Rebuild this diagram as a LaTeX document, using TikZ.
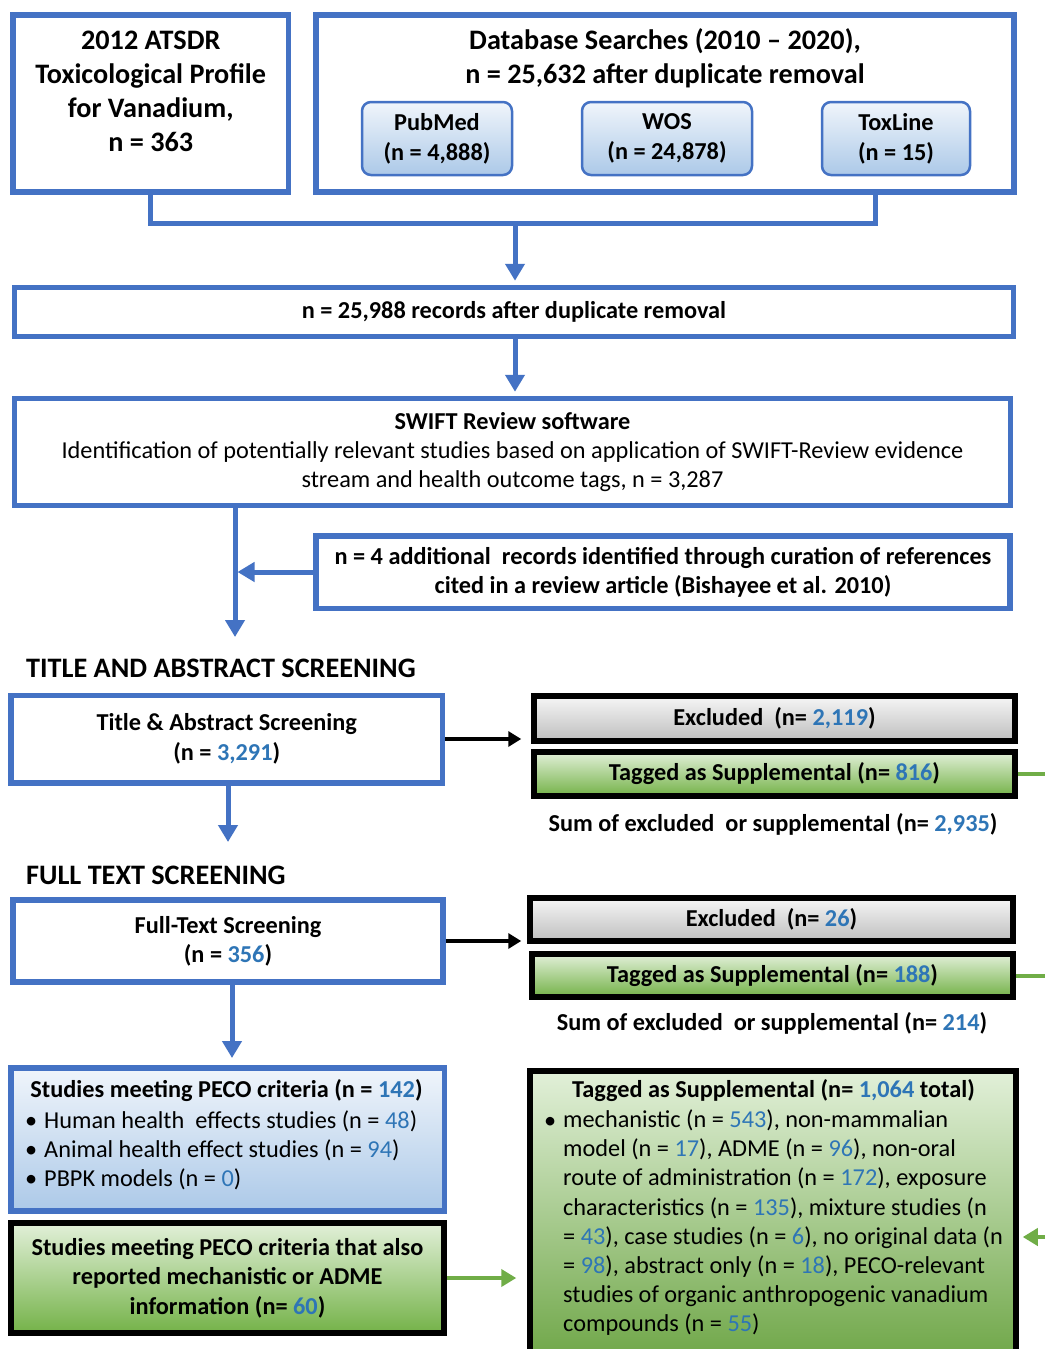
\documentclass[tikz,border=0pt]{standalone}
\usepackage{fontspec}
\setmainfont{Carlito}
\usetikzlibrary{arrows.meta,calc}
\definecolor{bl}{RGB}{68,114,196}
\definecolor{nb}{RGB}{46,117,182}
\definecolor{ga}{RGB}{112,173,71}
\definecolor{gtop}{RGB}{226,240,217}
\definecolor{gbot}{RGB}{116,178,72}
\definecolor{ytop}{RGB}{246,246,246}
\definecolor{ybot}{RGB}{190,190,190}
\definecolor{btop}{RGB}{240,245,251}
\definecolor{bbot}{RGB}{172,201,232}
\newcommand{\nm}[1]{\textcolor{nb}{#1}}
\begin{document}
\begin{tikzpicture}[x=1pt,y=-1pt,
  fb/.style={font=\bfseries\fontsize{24.3}{29.5}\selectfont},
  fr/.style={font=\fontsize{24.3}{29.2}\selectfont},
  ft/.style={font=\bfseries\fontsize{28.2}{33.8}\selectfont},
  bbox/.style={draw=bl,line width=5.5pt,inner sep=0pt,align=center,fill=white},
  subbox/.style={draw=bl,line width=2.5pt,rounded corners=9pt,inner sep=0pt,align=center,top color=btop,bottom color=bbot,font=\bfseries\fontsize{24.3}{30}\selectfont},
  kbox/.style={draw=black,line width=5.5pt,inner sep=0pt,align=center},
  gybox/.style={kbox,top color=ytop,bottom color=ybot,fb},
  grbox/.style={kbox,top color=gtop,bottom color=gbot},
  txt/.style={inner sep=0pt,align=center},
  blline/.style={draw=bl,line width=5pt},
  blarrow/.style={draw=bl,line width=5pt,-{Triangle[length=17pt,width=19pt]}},
  karrow/.style={draw=black,line width=4.5pt,-{Triangle[length=13pt,width=15pt]}},
  garrow/.style={draw=ga,line width=4pt,-{Triangle[length=15pt,width=17pt]}},
  gline/.style={draw=ga,line width=4pt}
]
\useasboundingbox (0,0) rectangle (1045,1349);
\fill[white] (0,0) rectangle (1045,1349);

% top boxes
\node[bbox,minimum width=275.5pt,minimum height=177pt] (A) at (150.75,103.5) {};
\node[txt,ft] (At) at (150.75,91.5)
  {2012 ATSDR\\Toxicological Profile\\for Vanadium,\\n = 363};
\node[bbox,minimum width=698pt,minimum height=177pt] (B) at (665,103.5) {};
\node[txt,ft] (Bt) at (665,58)
  {Database Searches (2010 -- 2020),\\n = 25,632 after duplicate removal};
\node[subbox,minimum width=150pt,minimum height=73pt] (pm) at (437,138.5) {PubMed\\(n = 4,888)};
\node[subbox,minimum width=170pt,minimum height=73pt] (wos) at (667,138.5) {WOS\\(n = 24,878)};
\node[subbox,minimum width=148pt,minimum height=73pt] (tox) at (896,138.5) {ToxLine\\(n = 15)};

\coordinate (mj) at (515,223);
\coordinate (bj) at (875,192);
\draw[blline] (A.south) |- (mj) -| (bj);

\node[bbox,fb,minimum width=999pt,minimum height=49pt] (C) at (514,312)
  {n = 25,988 records after duplicate removal};
\draw[blarrow,shorten >=4pt] (mj) -- (mj |- C.north);

\node[bbox,fr,minimum width=996pt,minimum height=107pt] (D) at (512.5,452)
  {\textbf{SWIFT Review software}\\
   Identification of potentially relevant studies based on application of SWIFT-Review evidence\\
   stream and health outcome tags, n = 3,287};
\draw[blarrow,shorten >=4pt] (C.south -| mj) -- (D.north -| mj);

\node[bbox,font=\bfseries\fontsize{24.3}{29}\selectfont,minimum width=694pt,minimum height=72.5pt] (E) at (663,572)
  {n = 4 additional\ \ records identified through curation of references\\cited in a review article (Bishayee et al. 2010)};

\coordinate (t1) at (235,637);
\draw[blarrow] (D.south -| t1) -- (t1);
\draw[blarrow,shorten >=2.5pt] (E.west) -- (E.west -| t1);

% title and abstract screening
\node[txt,anchor=west,ft] (h1) at (26,668) {TITLE AND ABSTRACT SCREENING};
\node[bbox,font=\bfseries\fontsize{24.3}{30}\selectfont,minimum width=431.5pt,minimum height=87.5pt] (F) at (226.75,739)
  {Title \& Abstract Screening\\(n = \nm{3,291})};
\node[gybox,minimum width=481pt,minimum height=45pt] (X1) at (774.5,718.5) {Excluded\ \ (n= \nm{2,119})};
\node[grbox,fb,minimum width=481pt,minimum height=44pt] (T1) at (774.5,774) {Tagged as Supplemental (n= \nm{816})};
\node[txt,fb] (S1) at (773,824) {Sum of excluded\ \ or supplemental (n= \nm{2,935})};
\draw[karrow,shorten >=10pt] (F.east) -- (F.east -| X1.west);
\coordinate (redge) at (1045,0);
\draw[gline] (T1.east) -- (T1.east -| redge);
\coordinate (t2) at (228,842);
\draw[blarrow] (F.south -| t2) -- (t2);

% full text screening
\node[txt,anchor=west,ft] (h2) at (26,875) {FULL TEXT SCREENING};
\node[bbox,font=\bfseries\fontsize{24.3}{29}\selectfont,minimum width=430pt,minimum height=82pt] (G) at (228,941)
  {Full-Text Screening\\(n = \nm{356})};
\node[gybox,minimum width=483pt,minimum height=43pt] (X2) at (771.5,919.5) {Excluded\ \ (n= \nm{26})};
\node[grbox,fb,minimum width=481pt,minimum height=43pt] (T2) at (772.5,975.5) {Tagged as Supplemental (n= \nm{188})};
\node[txt,fb] (S2) at (772,1023) {Sum of excluded\ \ or supplemental (n= \nm{214})};
\draw[karrow,shorten >=6pt] (G.east) -- (G.east -| X2.west);
\draw[gline] (T2.east) -- (T2.east -| redge);
\coordinate (t3) at (232,1058);
\draw[blarrow] (G.south -| t3) -- (t3);

% bottom left
\node[bbox,minimum width=433.5pt,minimum height=143pt,top color=btop,bottom color=bbot] (H) at (227.75,1139.5) {};
\node[txt,fb] (Ht) at (226.5,1091) {Studies meeting PECO criteria (n = \nm{142})};
\node[txt,fr,anchor=base west] (Hb1) at (25,1128) {•};
\node[txt,fr,anchor=base west] (Hb2) at (25,1157) {•};
\node[txt,fr,anchor=base west] (Hb3) at (25,1186) {•};
\node[txt,fr,anchor=base west] (Hl1) at (44,1128) {Human health\ \ effects studies (n = \nm{48})};
\node[txt,fr,anchor=base west] (Hl2) at (44,1157) {Animal health effect studies (n = \nm{94})};
\node[txt,fr,anchor=base west] (Hl3) at (44,1186) {PBPK models (n = \nm{0})};

\node[grbox,fb,minimum width=433pt,minimum height=110pt] (I) at (227.5,1278)
  {Studies meeting PECO criteria that also\\reported mechanistic or ADME\\information (n= \nm{60})};

% bottom right
\node[kbox,minimum width=486pt,minimum height=300pt,top color=gtop,bottom color=gbot!92!black,anchor=north] (J) at (773,1068) {};
\node[txt,fb] (Jt) at (773.5,1091) {Tagged as Supplemental (n= \nm{1,064} total)};
\node[txt,fr,anchor=base west] (Jb) at (544,1128) {•};
\node[txt,fr,anchor=north west,align=left] (Jl) at (563,1109.5)
  {mechanistic (n = \nm{543}), non-mammalian\\
   model (n = \nm{17}), ADME (n = \nm{96}), non-oral\\
   route of administration (n = \nm{172}), exposure\\
   characteristics (n = \nm{135}), mixture studies (n\\
   = \nm{43}), case studies (n = \nm{6}), no original data (n\\
   = \nm{98}), abstract only (n = \nm{18}), PECO-relevant\\
   studies of organic anthropogenic vanadium\\
   compounds (n = \nm{55})};

\draw[garrow,shorten >=11pt] (I.east) -- (I.east -| J.west);
\coordinate (jin) at (1045,1237);
\draw[garrow,shorten >=4pt] (jin) -- (jin -| J.east);
\end{tikzpicture}
\end{document}
